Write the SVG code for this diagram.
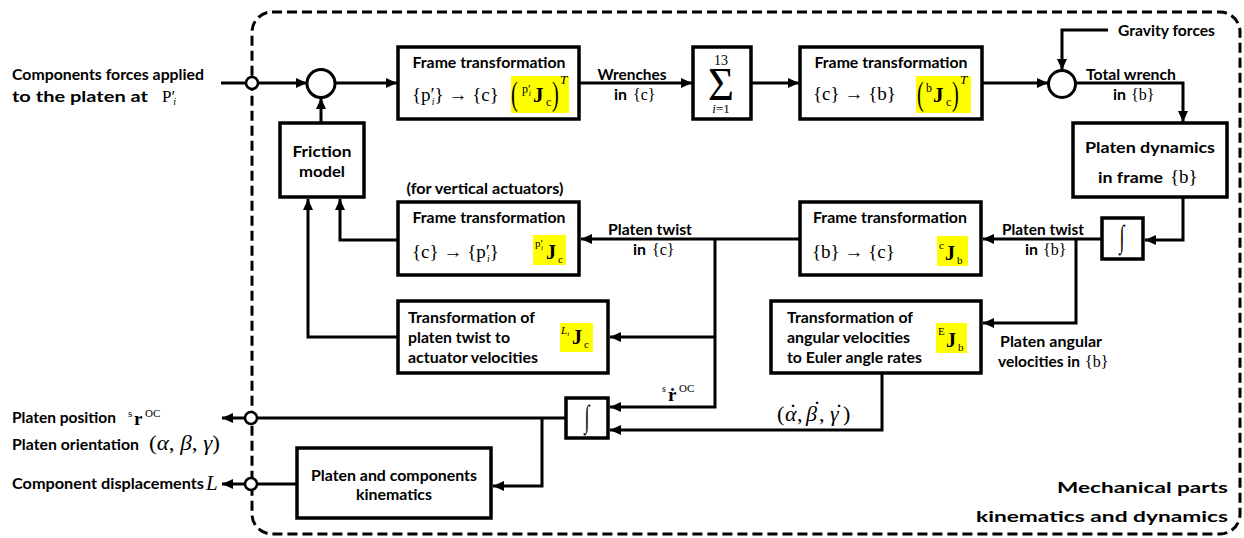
<svg xmlns="http://www.w3.org/2000/svg" width="1244" height="538" viewBox="0 0 1244 538">
<defs>
<marker id="ah" markerUnits="userSpaceOnUse" markerWidth="11" markerHeight="10" refX="11" refY="5" orient="auto" viewBox="0 0 11 10"><path d="M0,0 L11,5 L0,10 z" fill="#000"/></marker>
</defs>
<style>
.box{fill:#fff;stroke:#000;stroke-width:3.5}
.c{fill:none;stroke:#000;stroke-width:3;marker-end:url(#ah)}
.circ{fill:#fff;stroke:#000;stroke-width:3}
.port{fill:#fff;stroke:#000;stroke-width:2.5}
.t{font-family:Lato,"Open Sans","Liberation Sans",sans-serif;font-weight:700;font-size:16px;fill:#000}
.m{font-family:"Liberation Serif","DejaVu Serif",serif;fill:#000}
.b{font-weight:700}
.i{font-style:italic}
.hl{fill:#ffff00}
.mid{text-anchor:middle}
.end{text-anchor:end}
</style>
<rect x="252" y="12" width="988" height="522" rx="20" fill="none" stroke="#000" stroke-width="3" stroke-dasharray="10 5"/>

<g id="labels">
<text class="t" x="12" y="80" textLength="192" lengthAdjust="spacingAndGlyphs">Components forces applied</text>
<text class="t" x="12" y="102" textLength="136" lengthAdjust="spacingAndGlyphs">to the platen at</text>
<text class="m" x="162" y="102" font-size="17">P′<tspan class="i" font-size="10" dx="-2" dy="3">i</tspan></text>
<text class="t mid" x="632" y="80" textLength="69" lengthAdjust="spacingAndGlyphs">Wrenches</text>
<text class="t" x="614" y="100" textLength="13" lengthAdjust="spacingAndGlyphs">in</text>
<text class="m" x="633" y="100" font-size="16">{c}</text>
<text class="t" x="1118" y="36" textLength="97" lengthAdjust="spacingAndGlyphs">Gravity forces</text>
<text class="t mid" x="1131" y="80" textLength="90" lengthAdjust="spacingAndGlyphs">Total wrench</text>
<text class="t" x="1113" y="100" textLength="13" lengthAdjust="spacingAndGlyphs">in</text>
<text class="m" x="1131" y="100" font-size="16">{b}</text>
<text class="t mid" x="485" y="194" textLength="157" lengthAdjust="spacingAndGlyphs">(for vertical actuators)</text>
<text class="t mid" x="650" y="235" textLength="84" lengthAdjust="spacingAndGlyphs">Platen twist</text>
<text class="t" x="633" y="255" textLength="13" lengthAdjust="spacingAndGlyphs">in</text>
<text class="m" x="652" y="255" font-size="16">{c}</text>
<text class="t mid" x="1043" y="235" textLength="82" lengthAdjust="spacingAndGlyphs">Platen twist</text>
<text class="t" x="1025" y="255" textLength="13" lengthAdjust="spacingAndGlyphs">in</text>
<text class="m" x="1043" y="255" font-size="16">{b}</text>
<text class="t mid" x="1051" y="347" textLength="102" lengthAdjust="spacingAndGlyphs">Platen angular</text>
<text class="t" x="998" y="367" textLength="82" lengthAdjust="spacingAndGlyphs">velocities in</text>
<text class="m" x="1085" y="367" font-size="16">{b}</text>
<text class="m" x="662" y="392" font-size="10">s</text>
<text class="m b" x="668" y="401" font-size="19">ṙ</text>
<text class="m" x="679" y="392" font-size="11">OC</text>
<text class="m" y="421" font-size="22"><tspan x="777">(</tspan><tspan class="i" x="785">α</tspan><tspan x="797">,</tspan><tspan class="i" x="806">β</tspan><tspan x="819">,</tspan><tspan class="i" x="830">γ</tspan><tspan x="843">)</tspan></text>
<text class="m" font-size="24"><tspan x="789" y="420">˙</tspan><tspan x="813" y="417">˙</tspan><tspan x="835" y="420">˙</tspan></text>
<text class="t" x="12" y="423" textLength="104" lengthAdjust="spacingAndGlyphs">Platen position</text>
<text class="m" x="128" y="417" font-size="11">s</text>
<text class="m b" x="134" y="425" font-size="19">r</text>
<text class="m" x="145" y="417" font-size="11">OC</text>
<text class="t" x="12" y="450" textLength="127" lengthAdjust="spacingAndGlyphs">Platen orientation</text>
<text class="m" x="149" y="450" font-size="22" textLength="71" lengthAdjust="spacingAndGlyphs">(<tspan class="i">α</tspan>, <tspan class="i">β</tspan>, <tspan class="i">γ</tspan>)</text>
<text class="t" x="12" y="489" textLength="192" lengthAdjust="spacingAndGlyphs">Component displacements</text>
<text class="m i" x="206" y="490" font-size="21">L</text>
<text class="t end" x="1228" y="493" font-size="22" textLength="171" lengthAdjust="spacingAndGlyphs">Mechanical parts</text>
<text class="t end" x="1228" y="522" font-size="22" textLength="252" lengthAdjust="spacingAndGlyphs">kinematics and dynamics</text>
</g>

<g id="friction-model">
<rect class="box" x="280" y="123" width="84" height="74"/>
<text class="t mid" x="322" y="157" font-size="18" textLength="59" lengthAdjust="spacingAndGlyphs">Friction</text>
<text class="t mid" x="322" y="177" font-size="18" textLength="46" lengthAdjust="spacingAndGlyphs">model</text>
</g>

<g id="sum-forces"><circle class="circ" cx="321" cy="83.5" r="14"/></g>

<g id="frame-p-to-c">
<rect class="box" x="398" y="47" width="181" height="72"/>
<text class="t mid" x="489" y="68" textLength="153" lengthAdjust="spacingAndGlyphs">Frame transformation</text>
<text class="m" x="412" y="101" font-size="19">{p′<tspan class="i" font-size="10" dx="-3" dy="4">i</tspan><tspan dy="-4">} → {c}</tspan></text>
<rect class="hl" x="511" y="76" width="58" height="37"/>
<text class="m" font-size="34" transform="translate(511,105) scale(0.6,1)">(</text>
<text class="m" x="522" y="93" font-size="12">p′<tspan class="i" font-size="8" dx="-2" dy="3">i</tspan></text>
<text class="m b" x="533" y="102" font-size="21">J</text>
<text class="m" x="546" y="106" font-size="12">c</text>
<text class="m" font-size="34" transform="translate(552,105) scale(0.6,1)">)</text>
<text class="m i" x="560" y="84" font-size="13">T</text>
</g>

<g id="sum-13">
<rect class="box" x="693" y="47" width="58" height="72"/>
<text class="m mid" x="721" y="65" font-size="14">13</text>
<text class="m" x="708" y="100" font-size="46" textLength="26" lengthAdjust="spacingAndGlyphs">Σ</text>
<text class="m mid" x="721" y="113" font-size="13"><tspan class="i">i</tspan>=1</text>
</g>

<g id="frame-c-to-b">
<rect class="box" x="800" y="47" width="182" height="72"/>
<text class="t mid" x="891" y="68" textLength="153" lengthAdjust="spacingAndGlyphs">Frame transformation</text>
<text class="m" x="813" y="100" font-size="19">{c} → {b}</text>
<rect class="hl" x="916" y="76" width="55" height="37"/>
<text class="m" font-size="34" transform="translate(917,105) scale(0.6,1)">(</text>
<text class="m" x="926" y="92" font-size="12">b</text>
<text class="m b" x="933" y="102" font-size="21">J</text>
<text class="m" x="946" y="106" font-size="12">c</text>
<text class="m" font-size="34" transform="translate(952,105) scale(0.6,1)">)</text>
<text class="m i" x="960" y="84" font-size="13">T</text>
</g>

<g id="sum-gravity"><circle class="circ" cx="1062" cy="84" r="13.5"/></g>

<g id="platen-dynamics">
<rect class="box" x="1073" y="123" width="154" height="74"/>
<text class="t mid" x="1150" y="153" font-size="18" textLength="130" lengthAdjust="spacingAndGlyphs">Platen dynamics</text>
<text class="t" x="1098" y="183" font-size="18" textLength="65" lengthAdjust="spacingAndGlyphs">in frame</text>
<text class="m" x="1170" y="183" font-size="19">{b}</text>
</g>

<g id="integrator-twist">
<rect class="box" x="1102" y="218" width="41" height="41"/>
<text class="m mid" font-size="30" transform="translate(1122,247) scale(0.6,1.05)">∫</text>
</g>

<g id="frame-b-to-c">
<rect class="box" x="800" y="202" width="181" height="73"/>
<text class="t mid" x="890" y="223" textLength="154" lengthAdjust="spacingAndGlyphs">Frame transformation</text>
<text class="m" x="812" y="258" font-size="19">{b} → {c}</text>
<rect class="hl" x="937" y="236" width="31" height="30"/>
<text class="m" x="939" y="249" font-size="11">c</text>
<text class="m b" x="945" y="260" font-size="20">J</text>
<text class="m" x="957" y="264" font-size="11">b</text>
</g>

<g id="frame-c-to-p">
<rect class="box" x="398" y="202" width="181" height="73"/>
<text class="t mid" x="489" y="223" textLength="153" lengthAdjust="spacingAndGlyphs">Frame transformation</text>
<text class="m" x="412" y="258" font-size="19">{c} → {p′<tspan class="i" font-size="10" dx="-3" dy="4">i</tspan><tspan dy="-4">}</tspan></text>
<rect class="hl" x="533" y="235" width="33" height="30"/>
<text class="m" x="535" y="247" font-size="11">p′<tspan class="i" font-size="7" dx="-2" dy="3">i</tspan></text>
<text class="m b" x="546" y="259" font-size="20">J</text>
<text class="m" x="558" y="263" font-size="11">c</text>
</g>

<g id="twist-to-actuator">
<rect class="box" x="398" y="301" width="210" height="72"/>
<text class="t" x="408" y="323" textLength="127" lengthAdjust="spacingAndGlyphs">Transformation of</text>
<text class="t" x="408" y="343" textLength="102" lengthAdjust="spacingAndGlyphs">platen twist to</text>
<text class="t" x="408" y="363" textLength="130" lengthAdjust="spacingAndGlyphs">actuator velocities</text>
<rect class="hl" x="560" y="323" width="33" height="29"/>
<text class="m i" x="561" y="334" font-size="11">L<tspan font-size="7" dy="2">i</tspan></text>
<text class="m b" x="572" y="344" font-size="20">J</text>
<text class="m" x="584" y="348" font-size="11">c</text>
</g>

<g id="angular-to-euler">
<rect class="box" x="771" y="301" width="210" height="72"/>
<text class="t" x="787" y="323" textLength="126" lengthAdjust="spacingAndGlyphs">Transformation of</text>
<text class="t" x="787" y="343" textLength="123" lengthAdjust="spacingAndGlyphs">angular velocities</text>
<text class="t" x="787" y="363" textLength="135" lengthAdjust="spacingAndGlyphs">to Euler angle rates</text>
<rect class="hl" x="936" y="323" width="31" height="30"/>
<text class="m" x="938" y="335" font-size="11">E</text>
<text class="m b" x="946" y="347" font-size="20">J</text>
<text class="m" x="958" y="351" font-size="11">b</text>
</g>

<g id="integrator-pose">
<rect class="box" x="566" y="398" width="42" height="40"/>
<text class="m mid" font-size="30" transform="translate(587,427) scale(0.6,1.05)">∫</text>
</g>

<g id="kinematics">
<rect class="box" x="297" y="448" width="194" height="70"/>
<text class="t mid" x="394" y="481" textLength="166" lengthAdjust="spacingAndGlyphs">Platen and components</text>
<text class="t mid" x="394" y="500" textLength="76" lengthAdjust="spacingAndGlyphs">kinematics</text>
</g>

<g id="connectors">
<path class="c" d="M221,83 H307"/>
<path class="c" d="M321,123 V98"/>
<path class="c" d="M335,83 H397"/>
<path class="c" d="M579,83 H692"/>
<path class="c" d="M751,83 H799"/>
<path class="c" d="M982,83 H1048"/>
<path class="c" d="M1108,30 H1062 V70"/>
<path class="c" d="M1075,83 H1183 V122"/>
<path class="c" d="M1183,197 V240 H1145"/>
<path class="c" d="M1102,239 H983"/>
<path class="c" d="M1076,239 V323 H983"/>
<path class="c" d="M800,239 H581"/>
<path class="c" d="M715,239 V407 H610"/>
<path class="c" d="M715,337 H610"/>
<path class="c" d="M398,240 H340 V199"/>
<path class="c" d="M398,337 H308 V199"/>
<path class="c" d="M882,373 V430 H610"/>
<path class="c" d="M566,418 H222"/>
<path class="c" d="M542,418 V486 H493"/>
<path class="c" d="M297,484 H222"/>
</g>

<g id="ports">
<circle class="port" cx="252" cy="83" r="6"/>
<circle class="port" cx="251" cy="418" r="6"/>
<circle class="port" cx="251" cy="484" r="6"/>
</g>
</svg>
